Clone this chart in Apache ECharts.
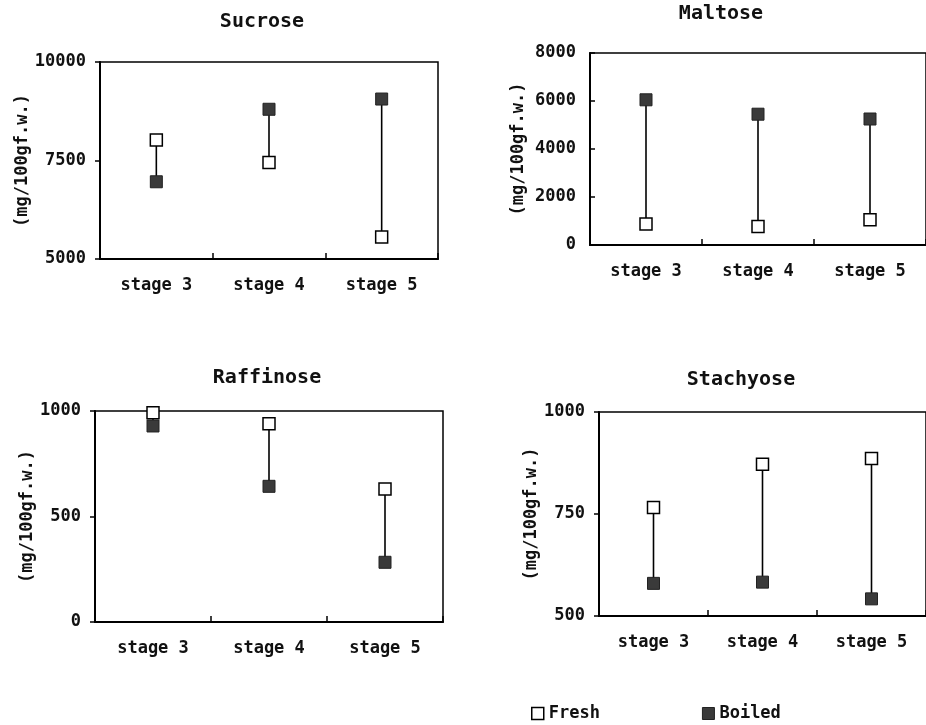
<!DOCTYPE html>
<html>
<head>
<meta charset="utf-8">
<script src="https://cdn.jsdelivr.net/npm/echarts@6/dist/echarts.min.js"></script>
<style>
html,body{margin:0;padding:0;background:#fff;}
#chart{width:926px;height:725px;}
</style>
</head>
<body>
<div id="chart"></div>
<script>
const categories = ['stage 3', 'stage 4', 'stage 5'];
const panelTitles = ['Sucrose', 'Maltose', 'Raffinose', 'Stachyose'];
const yAxisName = '(mg/100gf.w.)';

const sucroseFresh = [8020, 7450, 5560];
const sucroseBoiled = [6960, 8800, 9060];
const maltoseFresh = [875, 770, 1050];
const maltoseBoiled = [6050, 5450, 5250];
const raffinoseFresh = [992, 940, 630];
const raffinoseBoiled = [929, 643, 283];
const stachyoseFresh = [766, 872, 886];
const stachyoseBoiled = [580, 583, 542];

const yMin = [5000, 0, 0, 500];
const yMax = [10000, 8000, 1000, 1000];
const yInterval = [2500, 2000, 500, 250];

const FONT = 'DejaVu Sans Mono';

const freshData = [sucroseFresh, maltoseFresh, raffinoseFresh, stachyoseFresh];
const boiledData = [sucroseBoiled, maltoseBoiled, raffinoseBoiled, stachyoseBoiled];

const grids = [
  {left: 100, top: 62, width: 338, height: 197},
  {left: 590, top: 53, width: 341, height: 192},
  {left: 95, top: 411, width: 348, height: 211},
  {left: 599, top: 412, width: 334, height: 204}
];
const titlePos = [
  {left: 262, top: 12},
  {left: 721, top: 4},
  {left: 267, top: 368},
  {left: 741, top: 370}
];
const nameGaps = [65, 63, 54, 44];
const tickInside = [false, true, false, false];

const chart = echarts.init(document.getElementById('chart'));

const option = {
  animation: false,
  backgroundColor: '#fff',
  title: panelTitles.map((t, i) => ({
    text: t,
    left: titlePos[i].left,
    top: titlePos[i].top,
    padding: 0,
    textAlign: 'center',
    textStyle: {fontFamily: FONT, fontSize: 20, fontWeight: 'bold', color: '#111'}
  })),
  legend: {
    left: 531,
    top: 705,
    padding: 0,
    itemWidth: 12,
    itemHeight: 12,
    itemGap: 102,
    icon: 'rect',
    textStyle: {fontFamily: FONT, fontSize: 17, color: '#111', fontWeight: 'bold'},
    data: [
      {name: 'Fresh', itemStyle: {color: '#fff', borderColor: '#000', borderWidth: 1.5}},
      {name: 'Boiled', itemStyle: {color: '#3a3a3a', borderColor: '#222', borderWidth: 1}}
    ]
  },
  grid: grids.map(g => Object.assign({
    show: true,
    borderColor: '#000',
    borderWidth: 1.5,
    backgroundColor: 'transparent',
    containLabel: false
  }, g)),
  xAxis: grids.map((g, i) => ({
    type: 'category',
    gridIndex: i,
    data: categories,
    boundaryGap: true,
    axisLine: {show: true, lineStyle: {color: '#000', width: 2}},
    axisTick: {show: true, inside: true, length: 6, lineStyle: {color: '#000', width: 1.5}},
    axisLabel: {fontFamily: FONT, fontSize: 17, fontWeight: 'bold', color: '#111', margin: 18},
    splitLine: {show: false}
  })),
  yAxis: grids.map((g, i) => ({
    type: 'value',
    gridIndex: i,
    min: yMin[i],
    max: yMax[i],
    interval: yInterval[i],
    name: yAxisName,
    nameLocation: 'middle',
    nameRotate: 90,
    nameGap: nameGaps[i],
    nameTextStyle: {fontFamily: FONT, fontSize: 17, fontWeight: 'bold', color: '#111'},
    axisLine: {show: true, lineStyle: {color: '#000', width: 2}},
    axisTick: {show: true, inside: tickInside[i], length: 5, lineStyle: {color: '#000', width: 1.5}},
    axisLabel: {fontFamily: FONT, fontSize: 17, fontWeight: 'bold', color: '#111', margin: 14,
      formatter: v => String(v)},
    splitLine: {show: false}
  })),
  series: []
};

for (let i = 0; i < 4; i++) {
  const linkData = categories.map((c, k) => [k, freshData[i][k], boiledData[i][k]]);
  option.series.push({
    type: 'custom',
    name: 'link',
    xAxisIndex: i,
    yAxisIndex: i,
    z: 1,
    encode: {x: 0, y: [1, 2]},
    data: linkData,
    renderItem: function (params, api) {
      const p1 = api.coord([api.value(0), api.value(1)]);
      const p2 = api.coord([api.value(0), api.value(2)]);
      return {
        type: 'line',
        shape: {x1: p1[0], y1: p1[1], x2: p2[0], y2: p2[1]},
        style: {stroke: '#000', lineWidth: 1.6}
      };
    }
  });
  option.series.push({
    type: 'scatter',
    name: 'Fresh',
    xAxisIndex: i,
    yAxisIndex: i,
    z: 3,
    symbol: 'rect',
    symbolSize: 12,
    itemStyle: {color: '#fff', borderColor: '#000', borderWidth: 1.5, opacity: 1},
    data: freshData[i]
  });
  option.series.push({
    type: 'scatter',
    name: 'Boiled',
    xAxisIndex: i,
    yAxisIndex: i,
    z: 3,
    symbol: 'rect',
    symbolSize: 12,
    itemStyle: {color: '#3a3a3a', borderColor: '#222', borderWidth: 1, opacity: 1},
    data: boiledData[i]
  });
}

chart.setOption(option);
</script>
</body>
</html>
